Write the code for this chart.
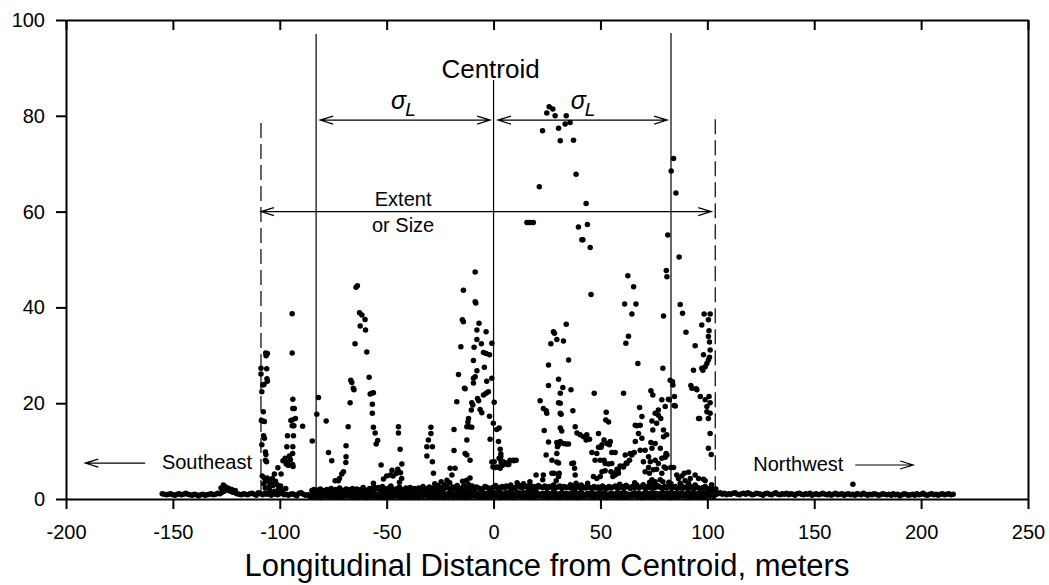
<!DOCTYPE html>
<html>
<head>
<meta charset="utf-8">
<script src="https://cdn.jsdelivr.net/npm/d3@7"></script>
<style>
  body { margin: 0; background: #fff; }
  svg { display: block; font-family: Arial, 'Liberation Sans', sans-serif; }
  .axis path, .axis line { stroke: #000; stroke-width: 2; }
  .axis text { font-size: 20px; fill: #000; font-family: Arial, 'Liberation Sans', sans-serif; }
  .ann { stroke: #000; stroke-width: 1.2; fill: none; }
  .ann-text { font-size: 20px; fill: #000; }
</style>
</head>
<body>
<div id="chart"></div>
<script>
// Ticks
const xTicks = [-200, -150, -100, -50, 0, 50, 100, 150, 200, 250];
const yTicks = [0, 20, 40, 60, 80, 100];

// Baseline band: row A every 1 m from -155 m
const baseStartX = -155;
const baseRowA = [
  1.1,1.0,0.9,1.0,1.1,0.9,0.8,1.0,1.1,0.9, 1.0,1.2,1.0,0.9,0.8,1.0,0.9,0.7,0.9,1.0,
  0.8,0.9,1.0,1.1,0.9,1.0,1.2,1.1,1.4,1.6, 2.1,1.8,1.6,1.4,1.3,1.1,1.0,0.9,1.1,1.0,
  0.9,1.1,1.2,1.0,0.8,1.3,1.1,0.9,1.2,1.0, 1.1,0.8,1.2,1.0,0.9,1.1,1.3,0.9,1.0,0.8,
  1.0,1.1,0.9,0.7,1.2,1.3,1.0,0.8,0.9,0.6, 1.0,1.3,1.5,1.1,0.9,0.8,1.0,1.1,0.9,1.2,
  1.0,0.8,1.1,1.3,1.0,0.9,1.2,1.1,0.7,1.0, 1.2,1.0,0.9,1.3,1.1,1.0,0.8,1.2,1.4,1.1,
  1.0,0.9,1.2,1.3,1.5,1.1,1.0,1.4,1.2,0.9, 1.1,1.3,1.0,0.8,1.2,1.4,1.1,1.0,1.3,0.9,
  1.0,1.2,1.1,0.8,1.3,1.0,0.9,1.1,1.4,1.2, 1.0,1.3,1.1,0.9,1.2,1.5,1.1,1.0,1.3,1.2,
  1.4,1.1,0.9,1.2,1.0,1.3,1.5,1.2,1.0,1.1, 1.3,1.0,1.2,0.9,1.1,1.4,1.0,1.2,1.5,1.1,
  1.0,1.3,1.2,1.6,1.1,0.9,1.4,1.2,1.0,1.3, 1.1,1.5,1.2,1.0,1.3,1.4,1.1,0.9,1.2,1.0,
  1.3,1.1,1.0,1.4,1.2,0.9,1.1,1.3,1.0,1.2, 1.1,0.9,1.3,1.0,1.2,1.1,1.4,1.0,0.9,1.2,
  1.0,1.3,1.1,0.8,1.2,1.0,1.1,1.3,0.9,1.0, 1.2,1.1,0.9,1.3,1.0,1.2,1.4,1.1,1.0,0.9,
  1.1,1.3,1.0,1.2,0.9,1.1,1.4,1.2,1.0,1.3, 1.0,1.2,1.1,0.9,1.3,1.0,1.2,1.1,1.4,1.0,
  1.2,1.0,1.1,1.3,0.9,1.1,1.2,1.0,1.3,1.1, 1.0,1.2,0.9,1.1,1.3,1.0,1.2,1.1,0.9,1.0,
  1.1,1.3,1.0,1.2,0.9,1.1,1.0,1.2,1.3,1.0, 0.9,1.1,1.2,1.0,1.3,1.1,0.9,1.0,1.2,1.1,
  1.0,0.8,1.1,1.2,1.0,0.9,1.1,1.3,1.0,0.9, 1.1,1.0,1.2,0.9,1.1,1.0,0.8,1.1,1.2,1.0,
  0.9,1.1,1.0,1.2,0.8,1.0,1.1,0.9,1.0,1.2, 1.0,0.9,1.1,0.8,1.0,1.2,0.9,1.0,1.1,0.8,
  1.0,1.1,0.9,1.0,0.8,1.1,1.0,0.9,1.2,1.0, 0.8,1.0,0.9,1.1,1.0,0.8,0.9,1.1,1.0,0.9,
  1.0,0.8,1.1,0.9,1.0,0.7,0.9,1.1,1.0,0.8, 0.9,1.0,0.8,1.1,0.9,1.0,1.2,0.9,0.8,1.0,
  1.1,0.9,1.0,0.8,1.0,1.1,0.9,1.0,1.1,0.9, 1.0
];

// Central band: row B every 1 m, row C every 2 m, from -85 m
const midStartX = -85;
const baseRowB = [
  1.8,2.0,1.7,1.9,2.1,1.8,1.6,2.0,1.9,2.2, 1.7,2.0,1.8,2.3,1.9,1.7,2.1,2.0,1.8,2.2,
  1.9,2.1,1.8,2.0,2.4,1.9,1.7,2.2,2.0,2.5, 2.1,2.4,1.9,2.6,2.2,2.0,2.3,2.7,2.1,1.9,
  2.2,2.5,2.0,1.8,2.3,2.1,2.4,1.9,2.2,2.0, 2.3,2.1,2.6,2.0,2.2,2.5,1.9,2.3,2.7,2.1,
  2.4,2.0,2.2,2.6,2.3,2.0,2.5,2.2,2.8,2.1, 2.3,2.6,2.0,2.4,2.2,2.7,2.1,2.5,2.3,2.0,
  2.2,2.6,2.4,2.0,2.3,2.5,2.8,2.2,2.4,2.6, 2.3,2.7,2.5,2.9,2.4,2.2,2.6,2.8,2.3,2.5,
  2.7,2.4,2.9,2.2,2.6,2.3,2.8,2.5,2.4,2.7, 2.2,2.6,2.4,2.9,2.3,2.5,2.7,2.2,2.6,2.4,
  2.5,2.3,2.7,2.1,2.4,2.6,2.2,2.5,2.3,2.8, 2.4,2.2,2.6,2.3,2.5,2.1,2.7,2.4,2.2,2.6,
  2.3,2.5,2.7,2.2,2.4,2.6,2.3,2.8,2.5,2.2, 2.6,2.4,2.9,2.3,2.5,2.7,2.2,2.6,2.4,2.8,
  2.3,2.5,2.7,2.4,2.2,2.6,2.3,2.9,2.5,2.4, 2.6,2.2,2.4,2.7,2.3,2.5,2.1,2.6,2.4,2.2,
  2.5,2.3,2.1,2.4,2.6,2.2,2.0,2.3,1.9,2.1
];
const baseRowC = [
  0.4,0.5,0.3,0.6,0.4,0.5,0.3,0.4,0.6,0.5, 0.3,0.4,0.5,0.3,0.6,0.4,0.5,0.3,0.4,0.5,
  0.6,0.3,0.4,0.5,0.4,0.3,0.6,0.5,0.4,0.3, 0.5,0.4,0.6,0.3,0.5,0.4,0.3,0.5,0.6,0.4,
  0.3,0.5,0.4,0.6,0.3,0.4,0.5,0.3,0.6,0.4, 0.5,0.3,0.4,0.6,0.5,0.3,0.4,0.5,0.3,0.6,
  0.4,0.5,0.3,0.4,0.6,0.5,0.3,0.4,0.5,0.3, 0.6,0.4,0.5,0.3,0.4,0.6,0.5,0.3,0.4,0.5,
  0.3,0.6,0.4,0.5,0.3,0.4,0.5,0.6,0.3,0.4, 0.5,0.3,0.4,0.6,0.5
];

// Scattered readings [distance m, value]
const edgeSE = [
  [-106.6,30.5],[-105.8,30.4],[-106.4,29.9],[-108.8,27.3],[-106.1,27.2],[-108.8,26.1],[-106.0,25.1],
  [-105.8,24.6],[-108.0,23.8],[-107.4,23.9],[-108.4,22.4],[-107.7,18.2],[-108.6,16.4],[-108.0,16.3],
  [-107.2,16.2],[-107.6,13.2],[-107.2,12.7],[-108.4,11.3],[-106.7,9.8],[-106.5,9.3],[-106.7,8.1],
  [-106.2,7.8],[-108.2,4.8],[-107.3,4.4],[-106.6,3.7],[-105.9,4.4],[-107.5,3.2],[-106.8,2.3],
  [-105.5,3.8],[-104.8,1.9],[-103.2,2.8],[-102.5,1.6],[-101.2,3.0],[-100.3,1.9],[-99.6,2.7],
  [-98.8,1.7],[-97.2,2.2]
];
const clusterA = [
  [-94.2,38.7],[-94.2,30.5],[-93.9,20.8],[-93.9,18.9],[-93.2,18.9],[-94.2,16.5],[-92.7,16.8],
  [-94.8,16.4],[-94.2,15.3],[-93.4,15.3],[-96.4,13.2],[-93.6,13.2],[-89.3,15.2],[-96.7,10.9],
  [-93.9,10.9],[-98.5,8.0],[-97.5,8.5],[-96.5,7.6],[-95.5,9.0],[-95.0,8.2],[-94.0,7.2],[-94.0,9.5],
  [-93.8,6.8],[-96.0,7.0],[-97.0,7.3],[-100.9,6.5],[-102.5,5.2],[-99.4,5.2],[-103.5,4.3],
  [-104.3,3.3],[-102.0,3.7],[-105.0,2.6],[-100.5,2.2],[-84.8,12.1],[-81.9,21.2],[-82.7,17.7],
  [-78.3,16.3],[-77.2,9.7],[-75.7,8.0]
];
const clusterB = [
  [-64.3,44.2],[-63.7,44.5],[-62.7,38.9],[-61.6,38.4],[-60.1,37.5],[-62.4,36.1],[-59.9,35.3],
  [-64.8,32.4],[-59.3,30.7],[-58.2,25.4],[-66.8,24.8],[-66.3,24.3],[-65.6,23.1],[-65.3,22.8],
  [-57.7,21.9],[-57.0,22.1],[-56.2,22.2],[-67.1,20.1],[-56.7,19.8],[-56.7,17.9],[-68.0,15.1],
  [-56.2,15.0],[-55.4,13.8],[-54.2,12.2],[-54.9,11.5],[-69.0,11.1],[-69.0,8.8],[-69.1,7.6],
  [-70.2,5.7],[-71.0,5.2],[-72.1,4.3],[-74.1,3.8],[-72.6,3.8],[-52.6,7.1],[-56.2,3.3],
  [-51.5,4.2],[-50.0,4.8],[-48.3,5.0],[-47.0,4.8],[-45.5,5.3],[-47.5,6.0],[-44.8,6.2],[-43.5,5.5],
  [-43.0,4.3],[-44.0,3.5],[-44.5,15.1],[-44.5,13.8],[-43.7,10.4],[-42.9,7.3],
  [-29.3,15.0],[-29.3,13.7],[-30.5,12.3],[-31.2,10.9],[-28.6,10.9],[-31.2,9.0],[-28.6,7.8],
  [-28.1,5.4],[-27.5,3.2],[-26.0,2.8],[-24.5,3.6],[-23.0,3.0],[-21.8,3.9],[-20.5,3.4],
  [-20.3,6.4],[-18.0,6.4],[-19.5,5.0]
];
const clusterC = [
  [-18.5,14.5],[-18.5,10.1],[-16.4,26.0],[-15.3,31.8],[-14.1,43.6],[-14.6,37.4],[-14.1,37.0],
  [-13.3,23.0],[-17.2,20.3],[-8.6,47.4],[-8.6,41.2],[-8.3,40.9],[-6.8,36.7],[-7.8,35.3],[-3.5,34.9],
  [-7.8,33.3],[-5.7,32.4],[-9.1,31.7],[-4.7,30.6],[-3.5,30.4],[-1.9,30.1],[-0.8,32.5],[-9.4,28.9],
  [-4.3,27.5],[-7.8,26.8],[-8.6,25.5],[-9.4,25.2],[-3.2,24.6],[-0.8,25.2],[-9.4,24.2],[-13.6,23.1],
  [-2.4,22.4],[-3.5,22.1],[-4.7,21.7],[-7.5,21.0],[-10.2,20.1],[-7.0,20.5],[-9.7,19.6],[-10.4,18.6],
  [-6.3,18.7],[-5.5,18.0],[0.3,20.2],[-11.7,16.8],[-12.0,16.1],[-11.4,15.1],[-12.5,15.1],[-10.2,15.0],
  [-1.9,17.3],[-0.1,15.8],[1.5,14.5],[2.6,14.8],[-12.5,12.3],[-1.6,12.5],[-13.3,9.5],[-12.5,9.2],
  [-11.0,8.1],[2.3,12.0],[3.1,10.4],[3.4,9.4],[2.6,8.5],[0.3,7.8],[-0.3,6.7],[-14.5,3.7],[-13.8,2.8],
  [-12.6,3.9],[-11.8,3.1],[-11.0,4.4],
  [1.5,6.7],[2.6,6.7],[4.1,7.0],[5.3,7.4],[6.4,7.2],[7.9,8.0],[9.5,8.0],[7.1,7.2],[3.5,7.7],
  [3.4,8.8],[4.6,7.8],[6.2,7.5],[7.7,8.1],[9.3,8.1],[10.6,8.1],[-0.8,7.7],[0.7,6.6],[3.1,6.4]
];
const clusterD = [
  [15.6,57.7],[16.5,57.7],[17.5,57.7],[18.6,57.7],[21.4,65.2],[26.0,81.9],[27.7,81.4],[24.9,80.6],
  [28.8,80.0],[34.0,80.0],[33.5,78.3],[35.8,78.6],[30.4,77.4],[22.9,76.9],[31.2,74.8],[37.4,74.9],
  [38.6,67.8],[43.3,61.7],[39.7,56.8],[43.9,57.3],[41.3,54.1],[41.8,54.1],[45.2,52.5],[45.6,42.7],
  [28.0,34.9],[28.5,34.6],[29.6,33.3],[26.8,32.4],[25.7,28.0],[30.4,25.0],[25.7,23.7],[21.8,20.5],
  [23.3,18.9],[24.6,18.4],[24.9,17.9],[23.7,14.3],[25.7,11.9],[29.6,11.8],[24.6,9.2],[27.3,8.1],
  [29.6,7.7],[19.9,5.0],[23.3,5.0],[23.0,4.0],[27.3,5.4],[30.4,5.2],[32.7,33.0],[34.0,36.5],
  [35.1,29.0],[32.4,23.3],[36.2,22.8],[31.2,20.0],[31.6,17.7],[37.1,18.4],[31.9,14.2],[31.2,12.0],
  [29.9,10.9],[32.7,11.6],[34.0,11.5],[35.1,11.5],[30.4,7.5],[28.3,5.4],[30.7,5.4],[29.3,3.8],
  [38.2,15.1],[39.0,13.8],[40.5,13.4],[42.1,13.0],[43.6,13.4],[44.9,12.5],[43.3,12.3],[37.4,7.5],
  [37.9,6.4],[38.2,5.0],[38.6,3.3],[47.1,22.1],[31.2,22.1],[30.4,20.1],[31.2,17.9],[31.2,14.8],
  [30.4,11.3],[29.6,9.5],[36.6,7.4],[30.4,4.7],[11.0,3.4],[14.0,3.2],[17.0,3.6]
];
const clusterE = [
  [46.0,9.7],[47.5,8.1],[46.7,4.7],[48.3,4.3],[49.9,4.7],[50.7,5.7],[49.1,10.8],[50.3,10.8],
  [51.7,12.3],[52.7,18.1],[53.8,16.1],[52.5,16.5],[54.2,11.3],[55.3,9.7],[56.9,9.7],[51.7,8.1],
  [52.2,5.9],[53.8,7.3],[54.9,5.7],[55.8,4.7],[56.9,5.0],[57.7,6.2],[58.4,5.4],[59.2,6.9],[60.8,6.9],
  [62.1,7.5],[63.6,8.1],[64.7,9.2],[65.8,9.7],[60.8,22.1],[49.1,13.7],[50.7,11.3],[53.1,11.6],
  [54.6,12.0],[48.3,9.5],[49.9,8.1],[52.2,7.4],[55.3,7.4],[56.1,5.4],[58.4,6.1],[60.8,6.7],
  [62.4,7.4],[61.6,9.2],[63.9,9.5],[36.0,3.0],[41.0,2.9],[44.0,3.3]
];
const clusterF = [
  [62.8,46.6],[65.5,44.3],[61.3,40.7],[66.6,40.7],[64.7,38.6],[63.1,34.0],[61.9,32.5],[67.5,28.3],
  [79.5,38.2],[80.8,47.7],[81.1,46.4],[79.2,27.3],[82.6,24.8],[83.7,24.5],[81.8,20.8],[84.6,21.4],
  [85.0,19.4],[68.3,19.1],[67.0,15.3],[69.4,12.7],[68.6,10.2],[70.1,7.8],[73.3,7.8],[73.6,11.8],
  [74.5,14.4],[74.1,16.3],[73.6,22.6],[74.5,21.7],[72.5,6.6],[70.9,5.7],[72.9,5.4],[74.8,6.1],
  [76.3,6.2],[74.1,4.0],[75.6,3.6],[78.0,4.0],[78.7,5.4],[79.8,6.7],[78.7,8.5],[78.0,10.6],
  [76.3,15.8],[77.1,17.5],[78.2,16.8],[80.3,19.3],[81.0,13.4],[80.7,9.5],[80.3,8.7],[79.2,3.6],
  [83.9,23.8],[84.5,19.5],[82.2,20.7],[81.1,9.2],[82.9,6.6],[84.2,6.6],[79.5,14.4],[79.5,13.0],
  [66.3,12.0],[67.8,13.7],[68.6,15.4],[69.4,17.2],[66.3,15.4],[75.6,17.9],[77.1,18.6],[78.7,20.7],
  [75.6,11.6],[74.1,10.6],[70.9,10.2],[72.5,8.8],[75.6,8.1],[77.1,7.4],[80.3,8.8],[80.6,6.4],
  [84.2,71.1],[83.1,68.5],[85.3,63.9],[81.5,55.1],[86.8,50.5],[59.0,3.1],[62.0,2.8],[66.0,3.4],
  [70.0,3.0],[73.0,3.5],[76.0,2.9],[82.0,3.5],[83.0,3.2]
];
const edgeNW = [
  [87.3,40.6],[88.4,38.8],[90.0,34.8],[94.3,32.0],[93.5,26.9],[92.3,23.7],[92.8,23.1],[94.8,23.0],
  [96.7,21.4],[96.4,16.8],[97.9,26.9],[97.4,27.3],[99.0,27.6],[98.2,30.1],[99.8,28.3],[100.5,29.0],
  [101.0,29.6],[101.3,31.1],[101.0,32.8],[100.5,33.9],[100.8,35.1],[100.5,37.4],[98.5,38.6],
  [101.3,38.6],[100.8,21.4],[101.3,20.1],[99.8,19.3],[99.8,18.2],[100.5,16.8],[101.3,13.7],
  [100.5,10.6],[101.8,9.3],[97.4,36.3],[95.1,22.8],[99.0,20.7],[101.3,17.9],[95.9,16.8],[85.7,5.0],
  [86.5,4.3],[88.1,4.8],[89.2,5.4],[91.2,5.6],[92.0,4.3],[94.3,5.0],[95.9,4.3],[98.2,4.1],[99.0,3.8],
  [87.3,3.3],[91.2,3.3],[89.6,3.8],[94.3,2.9],[97.4,2.2],[102.0,3.0]
];
const outliers = [
  [-126.4,2.9],[-127.5,2.3],[-125.2,2.5],[-123.8,2.2],[-122.5,2.0],[-120.8,1.8],[168.1,3.1]
];

// Annotation values
const sigmaLinesX = [-83, 83];
const sigmaLinesTop = [97.1, 97.3];
const centroidX = 0;
const centroidTop = 87.5;
const extentX = [-108.8, 103.7];
const extentTop = [78.5, 79.3];
const sigmaArrowY = 79.1;
const sigmaArrows = [[-81.1, -1.6], [2.1, 81.2]];
const extentArrowY = 60;
const extentArrow = [-108.8, 101.8];

function draw() {
  // Dimensions
  let dimensions = {
    width: 1049,
    height: 585,
    margins: { top: 20, right: 21, bottom: 86, left: 66 },
  };
  dimensions.ctrWidth = dimensions.width - dimensions.margins.left - dimensions.margins.right;
  dimensions.ctrHeight = dimensions.height - dimensions.margins.top - dimensions.margins.bottom;

  // Points
  const points = [];
  baseRowA.forEach((v, i) => points.push([baseStartX + i, v]));
  baseRowB.forEach((v, i) => points.push([midStartX + i, v]));
  baseRowC.forEach((v, i) => points.push([midStartX + i * 2, v]));
  [edgeSE, clusterA, clusterB, clusterC, clusterD, clusterE, clusterF, edgeNW, outliers]
    .forEach((arr) => arr.forEach((p) => points.push(p)));

  // Draw Image
  const svg = d3 //
    .select('#chart')
    .append('svg')
    .attr('width', dimensions.width)
    .attr('height', dimensions.height);

  const ctr = svg
    .append('g') //
    .attr('transform', `translate(${dimensions.margins.left}, ${dimensions.margins.top})`);

  // Scales
  const xScale = d3
    .scaleLinear() //
    .domain([-200, 250])
    .range([0, dimensions.ctrWidth]);

  const yScale = d3
    .scaleLinear() //
    .domain([0, 100])
    .range([dimensions.ctrHeight, 0]);

  // Reference lines
  ctr
    .selectAll('line.sigma')
    .data(sigmaLinesX)
    .join('line')
    .attr('class', 'ann sigma')
    .attr('x1', (d) => xScale(d))
    .attr('x2', (d) => xScale(d))
    .attr('y1', (d, i) => yScale(sigmaLinesTop[i]))
    .attr('y2', yScale(0))
    .attr('stroke', '#222');

  ctr
    .append('line')
    .attr('class', 'ann')
    .attr('x1', xScale(centroidX))
    .attr('x2', xScale(centroidX))
    .attr('y1', yScale(centroidTop))
    .attr('y2', yScale(0));

  ctr
    .selectAll('line.extent')
    .data(extentX)
    .join('line')
    .attr('class', 'ann extent')
    .attr('x1', (d) => xScale(d))
    .attr('x2', (d) => xScale(d))
    .attr('y1', (d, i) => yScale(extentTop[i]))
    .attr('y2', yScale(0))
    .attr('stroke-dasharray', '15,6');

  // Arrows
  const headLen = 13;
  const headW = 4;
  function arrow(x1, x2, y, both) {
    const px1 = xScale(x1);
    const px2 = xScale(x2);
    const py = yScale(y);
    const dir = px2 > px1 ? 1 : -1;
    let p = `M${px1},${py}L${px2},${py}`;
    p += `M${px2 - dir * headLen},${py - headW}L${px2},${py}L${px2 - dir * headLen},${py + headW}`;
    if (both) {
      p += `M${px1 + dir * headLen},${py - headW}L${px1},${py}L${px1 + dir * headLen},${py + headW}`;
    }
    ctr.append('path').attr('class', 'ann').attr('d', p);
  }
  sigmaArrows.forEach((a) => arrow(a[0], a[1], sigmaArrowY, true));
  arrow(extentArrow[0], extentArrow[1], extentArrowY, true);
  arrow(-163, -191, 7.5, false);
  arrow(169.2, 196.3, 7.1, false);

  // Labels
  ctr
    .append('text')
    .attr('x', xScale(centroidX) - 3)
    .attr('y', yScale(centroidTop) - 2)
    .attr('text-anchor', 'middle')
    .style('font-size', '26px')
    .text('Centroid');

  sigmaArrows.forEach((a) => {
    const t = ctr
      .append('text')
      .attr('x', xScale((a[0] + a[1]) / 2 + (a[0] < 0 ? -0.8 : 0.2)))
      .attr('y', yScale(sigmaArrowY) - 11)
      .attr('text-anchor', 'middle')
      .style('font-style', 'italic');
    t.append('tspan').style('font-size', '25px').text('σ');
    t.append('tspan').style('font-size', '19px').attr('dx', -1).attr('dy', 7).text('L');
  });

  const extentMid = xScale(-42.3);
  ctr
    .append('text')
    .attr('class', 'ann-text')
    .attr('x', extentMid)
    .attr('y', yScale(extentArrowY) - 6)
    .attr('text-anchor', 'middle')
    .text('Extent');
  ctr
    .append('text')
    .attr('class', 'ann-text')
    .attr('x', extentMid)
    .attr('y', yScale(extentArrowY) + 20)
    .attr('text-anchor', 'middle')
    .text('or Size');

  ctr
    .append('text')
    .attr('class', 'ann-text')
    .attr('x', xScale(-113))
    .attr('y', yScale(6.3))
    .attr('text-anchor', 'end')
    .text('Southeast');
  ctr
    .append('text')
    .attr('class', 'ann-text')
    .attr('x', xScale(121.5))
    .attr('y', yScale(5.85))
    .text('Northwest');

  // Draw Points
  ctr
    .append('g')
    .selectAll('circle')
    .data(points)
    .join('circle')
    .attr('cx', (d) => xScale(d[0]))
    .attr('cy', (d) => yScale(d[1]))
    .attr('r', 2.75)
    .attr('fill', '#000');

  // Draw Axis
  const xAxis = d3
    .axisBottom(xScale)
    .tickValues(xTicks)
    .tickSize(10)
    .tickSizeOuter(0)
    .tickPadding(16)
    .tickFormat((d) => String(d));
  ctr
    .append('g')
    .attr('class', 'axis')
    .attr('transform', `translate(0, ${dimensions.ctrHeight})`)
    .call(xAxis);

  const xAxisTop = d3
    .axisTop(xScale)
    .tickValues(xTicks)
    .tickSize(-10)
    .tickSizeOuter(0)
    .tickFormat('');
  ctr.append('g').attr('class', 'axis').call(xAxisTop);

  const yAxis = d3
    .axisLeft(yScale)
    .tickValues(yTicks)
    .tickSize(10)
    .tickSizeOuter(0)
    .tickPadding(11)
    .tickFormat((d) => String(d));
  ctr.append('g').attr('class', 'axis').call(yAxis);

  const yAxisRight = d3
    .axisRight(yScale)
    .tickValues([])
    .tickSizeOuter(0);
  ctr
    .append('g')
    .attr('class', 'axis')
    .attr('transform', `translate(${dimensions.ctrWidth}, 0)`)
    .call(yAxisRight);

  // Axis title
  svg
    .append('text')
    .attr('x', dimensions.margins.left + dimensions.ctrWidth / 2)
    .attr('y', 576)
    .attr('text-anchor', 'middle')
    .style('font-size', '31px')
    .text('Longitudinal Distance from Centroid, meters');
}

draw();
</script>
</body>
</html>
